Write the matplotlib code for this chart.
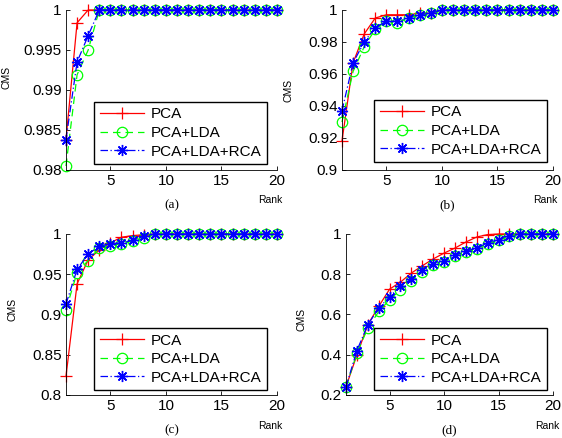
import matplotlib
matplotlib.use('Agg')
import matplotlib.pyplot as plt

plt.rcParams['font.family'] = ['Liberation Sans', 'DejaVu Sans']

ranks = list(range(1, 21))

# (a)
a_pca = [0.9838, 0.9984] + [1.0] * 18
a_lda = [0.9805, 0.9919, 0.9950] + [1.0] * 17
a_rca = [0.9838, 0.9935, 0.9968] + [1.0] * 17

# (b)
b_pca = [0.918, 0.967, 0.985, 0.995, 0.997, 0.997, 0.997, 0.998, 0.998] + [1.0] * 11
b_lda = [0.930, 0.9616, 0.977, 0.988, 0.993, 0.992, 0.995, 0.997, 0.998] + [1.0] * 11
b_rca = [0.937, 0.967, 0.980, 0.989, 0.993, 0.993, 0.995, 0.997, 0.998] + [1.0] * 11

# (c)
c_pca = [0.823, 0.938, 0.968, 0.980, 0.989, 0.996, 0.998, 0.999] + [1.0] * 12
c_lda = [0.906, 0.952, 0.967, 0.983, 0.985, 0.988, 0.991, 0.995] + [1.0] * 12
c_rca = [0.913, 0.956, 0.975, 0.985, 0.988, 0.989, 0.992, 0.997] + [1.0] * 12

# (d)
d_pca = [0.241, 0.399, 0.549, 0.640, 0.726, 0.761, 0.806, 0.842, 0.876, 0.905,
         0.930, 0.960, 0.985, 0.997] + [1.0] * 6
d_lda = [0.241, 0.407, 0.532, 0.615, 0.673, 0.723, 0.764, 0.811, 0.844, 0.861,
         0.889, 0.910, 0.927, 0.950, 0.968, 0.988] + [1.0] * 4
d_rca = [0.241, 0.421, 0.549, 0.632, 0.687, 0.743, 0.776, 0.819, 0.851, 0.867,
         0.894, 0.914, 0.930, 0.955, 0.972, 0.992] + [1.0] * 4

a_yticks = [0.98, 0.985, 0.99, 0.995, 1]
a_ylabels = ['0.98', '0.985', '0.99', '0.995', '1']
b_yticks = [0.9, 0.92, 0.94, 0.96, 0.98, 1]
b_ylabels = ['0.9', '0.92', '0.94', '0.96', '0.98', '1']
c_yticks = [0.8, 0.85, 0.9, 0.95, 1]
c_ylabels = ['0.8', '0.85', '0.9', '0.95', '1']
d_yticks = [0.2, 0.4, 0.6, 0.8, 1]
d_ylabels = ['0.2', '0.4', '0.6', '0.8', '1']
xticks = [5, 10, 15, 20]

panels = [
    # rect, data, yticks, labels, caption, cms label pos, legend anchor, rank x
    ([0.1174, 0.6119, 0.3754, 0.3653], (a_pca, a_lda, a_rca), a_yticks, a_ylabels, '(a)', (-0.26, 0.58), (0.953, 0.0375), 0.97),
    ([0.6085, 0.6119, 0.3754, 0.3653], (b_pca, b_lda, b_rca), b_yticks, b_ylabels, '(b)', (-0.23, 0.5), (0.972, 0.05), 0.965),
    ([0.1174, 0.0982, 0.3754, 0.3676], (c_pca, c_lda, c_rca), c_yticks, c_ylabels, '(c)', (-0.23, 0.53), (0.953, 0.03), 0.97),
    ([0.6157, 0.0982, 0.3683, 0.3676], (d_pca, d_lda, d_rca), d_yticks, d_ylabels, '(d)', (-0.19, 0.47), (0.971, 0.03), 0.97),
]

fig = plt.figure(figsize=(5.62, 4.38), dpi=100)

for rect, (pca, lda, rca), yt, yl, cap, cms_pos, leg_pos, rank_x in panels:
    ax = fig.add_axes(rect)
    ax.plot(ranks, pca, color=(1, 0, 0), ls='-', lw=0.9, marker='+', ms=9, mew=0.9,
            label='PCA', clip_on=False)
    ax.plot(ranks, lda, color=(0, 1, 0), ls=(0, (6, 4)), lw=0.9, marker='o', ms=7.5, mfc='none',
            mew=0.9, label='PCA+LDA', clip_on=False)
    ax.plot(ranks, rca, color=(0, 0, 1), ls=(0, (6, 2, 1, 2)), lw=0.9, marker=(8, 2, 0), ms=8,
            mew=1.0, label='PCA+LDA+RCA', clip_on=False)
    ax.set_xlim(1, 20)
    ax.set_ylim(yt[0], yt[-1])
    ax.set_xticks(xticks)
    ax.set_yticks(yt)
    ax.set_yticklabels(yl)
    ax.spines['top'].set_visible(False)
    ax.spines['right'].set_visible(False)
    ax.spines['left'].set_linewidth(0.6)
    ax.spines['bottom'].set_linewidth(0.6)
    ax.tick_params(direction='in', length=3, width=0.6, labelsize=11, pad=3)
    ax.set_ylabel('CMS', fontsize=7.5)
    ax.yaxis.set_label_coords(*cms_pos)
    ax.text(rank_x, -0.19, 'Rank', transform=ax.transAxes, fontsize=7.5, ha='center', va='center')
    ax.text(0.5, -0.22, cap, transform=ax.transAxes, fontsize=9.5, ha='center', va='center',
            family=['Liberation Serif', 'DejaVu Serif'])
    leg = ax.legend(loc='lower right', bbox_to_anchor=leg_pos, fontsize=11, handlelength=2.9,
                    fancybox=False, framealpha=1, edgecolor='black', borderpad=0.35,
                    labelspacing=0.3, handletextpad=0.45, borderaxespad=0)
    leg.get_frame().set_linewidth(1.0)

fig.savefig('out.png', dpi=100)
